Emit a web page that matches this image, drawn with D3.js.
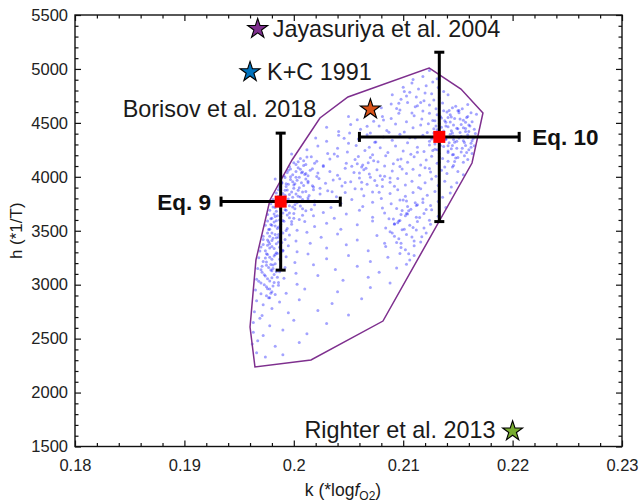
<!DOCTYPE html>
<html>
<head>
<meta charset="utf-8">
<script src="https://cdn.jsdelivr.net/npm/d3@7"></script>
<style>
  html, body { margin: 0; padding: 0; background: #fff; }
  svg { display: block; font-family: "Liberation Sans", Arial, Helvetica, sans-serif; }
</style>
</head>
<body>
<svg id="chart" width="639" height="503"></svg>
<script>
// Axis ticks
const xMajor = [0.18, 0.19, 0.2, 0.21, 0.22, 0.23];
const xMajorLabels = ["0.18", "0.19", "0.2", "0.21", "0.22", "0.23"];
const yMajor = [1500, 2000, 2500, 3000, 3500, 4000, 4500, 5000, 5500];

// Literature values (k, h)
const refNames = ["Jayasuriya et al. 2004", "K+C 1991", "Borisov et al. 2018", "Righter et al. 2013"];
const refK = [0.1967, 0.1960, 0.2070, 0.2200];
const refH = [5372, 4972, 4626, 1641];
const refColors = ["#7E2F8E", "#0072BD", "#D95319", "#77AC30"];

// Fitted equations with uncertainties
const eqNames = ["Eq. 9", "Eq. 10"];
const eqK = [0.1988, 0.2133];
const eqKErr = [0.00545, 0.0073];
const eqH = [3770, 4370];
const eqHErr = [635, 785];

// Outline of the sampled solutions
const hullK = [0.21236, 0.21528, 0.21729, 0.21629, 0.20815, 0.20157, 0.19645, 0.19600, 0.19654, 0.19782, 0.19984, 0.20239, 0.20495];
const hullH = [5009, 4814, 4592, 4128, 2663, 2302, 2237, 2608, 3229, 3785, 4156, 4545, 4740];

// Sampled (k, h) solutions
const cloud = [
[.2124,4985],[.2118,4930],[.2131,4910],
[.2108,4870],[.2121,4845],[.2114,4815],[.2127,4880],[.2100,4830],
[.2090,4760],[.2098,4720],[.2106,4785],[.2112,4740],[.2119,4705],[.2126,4770],[.2133,4730],[.2141,4760],[.2103,4750],[.2137,4790],
[.2080,4640],[.2089,4675],[.2097,4620],[.2104,4690],[.2111,4650],[.2118,4610],[.2124,4665],[.2130,4630],[.2136,4685],[.2142,4615],[.2148,4655],[.2154,4630],[.2159,4670],[.2145,4640],
[.2050,4560],[.2058,4530],[.2066,4580],[.2073,4515],[.2081,4560],[.2089,4540],[.2096,4590],[.2103,4510],[.2110,4565],[.2117,4535],[.2124,4590],[.2129,4520],[.2134,4560],[.2139,4505],[.2143,4575],[.2147,4540],[.2151,4595],[.2155,4525],[.2159,4560],[.2163,4510],[.2167,4580],[.2141,4550],
[.2030,4460],[.2041,4420],[.2052,4485],[.2061,4440],[.2070,4405],[.2078,4470],[.2085,4430],[.2093,4490],[.2101,4415],[.2109,4455],[.2116,4480],[.2122,4410],[.2128,4445],[.2133,4495],[.2137,4425],[.2141,4465],[.2145,4405],[.2149,4450],[.2153,4485],[.2157,4420],[.2161,4470],[.2165,4440],[.2135,4460],[.2155,4455],
[.2020,4360],[.2030,4330],[.2041,4385],[.2050,4310],[.2059,4350],[.2067,4390],[.2074,4320],[.2082,4370],[.2090,4340],[.2097,4395],[.2104,4315],[.2111,4360],[.2118,4385],[.2124,4330],[.2129,4305],[.2134,4370],[.2139,4345],[.2143,4395],[.2147,4320],[.2151,4360],[.2155,4335],[.2159,4390],[.2162,4310],[.2164,4355],[.2126,4350],[.2146,4345],
[.2012,4250],[.2022,4285],[.2031,4215],[.2040,4265],[.2049,4230],[.2057,4290],[.2065,4245],[.2072,4205],[.2079,4270],[.2086,4225],[.2093,4285],[.2100,4240],[.2107,4210],[.2113,4275],[.2119,4235],[.2124,4295],[.2129,4255],[.2133,4215],[.2137,4280],[.2141,4240],[.2145,4205],[.2149,4265],[.2153,4230],[.2157,4290],[.2160,4250],[.2163,4215],[.2131,4250],[.2144,4260],
[.2000,4130],[.2006,4170],[.2011,4115],[.2016,4185],[.2021,4145],[.2027,4105],[.2033,4165],[.2040,4190],[.2048,4125],[.2056,4160],[.2063,4110],[.2070,4180],[.2077,4140],[.2084,4195],[.2091,4120],[.2098,4165],[.2104,4135],[.2110,4185],[.2116,4110],[.2121,4155],[.2126,4190],[.2131,4125],[.2136,4170],[.2141,4145],[.2146,4105],[.2150,4180],[.2155,4135],[.2159,4160],[.2009,4150],[.2019,4125],
[.1995,4060],[.1999,4020],[.2004,4085],[.2008,4045],[.2013,4010],[.2017,4075],[.2022,4035],[.2027,4095],[.2033,4050],[.2040,4015],[.2047,4080],[.2055,4040],[.2062,4090],[.2069,4025],[.2076,4065],[.2083,4005],[.2090,4055],[.2097,4095],[.2103,4030],[.2109,4070],[.2115,4015],[.2120,4085],[.2125,4045],[.2130,4005],[.2135,4060],[.2140,4030],[.2145,4090],[.2150,4050],[.2155,4020],[.2002,4050],[.2011,4030],[.2006,4070],
[.1989,3950],[.1993,3910],[.1997,3975],[.2001,3935],[.2005,3995],[.2009,3920],[.2013,3960],[.2018,3905],[.2023,3985],[.2029,3940],[.2036,3970],[.2044,3915],[.2052,3955],[.2060,3990],[.2067,3930],[.2074,3965],[.2081,3910],[.2088,3950],[.2095,3985],[.2102,3925],[.2108,3960],[.2114,3900],[.2120,3945],[.2126,3980],[.2132,3920],[.2138,3960],[.2144,3905],[.2149,3945],[.1999,3955],[.2007,3945],[.1995,3930],[.2011,3980],
[.1984,3850],[.1988,3815],[.1992,3875],[.1996,3835],[.2000,3895],[.2004,3820],[.2008,3860],[.2013,3805],[.2018,3880],[.2024,3840],[.2031,3870],[.2039,3815],[.2047,3855],[.2056,3890],[.2064,3825],[.2072,3860],[.2080,3800],[.2088,3845],[.2095,3880],[.2102,3820],[.2109,3855],[.2116,3890],[.2122,3830],[.2129,3865],[.2136,3810],[.2143,3850],[.1990,3845],[.1998,3860],[.2002,3840],[.1986,3880],
[.1979,3750],[.1983,3715],[.1987,3780],[.1991,3735],[.1995,3795],[.1999,3720],[.2003,3760],[.2008,3705],[.2013,3785],[.2019,3740],[.2026,3770],[.2034,3715],[.2043,3755],[.2053,3790],[.2063,3725],[.2072,3765],[.2081,3710],[.2089,3750],[.2097,3785],[.2104,3725],[.2111,3760],[.2118,3795],[.2125,3735],[.2132,3770],[.2139,3715],[.1985,3745],[.1993,3755],[.2001,3740],[.1981,3790],[.1997,3770],
[.1976,3650],[.1980,3615],[.1984,3680],[.1988,3635],[.1992,3695],[.1996,3620],[.2000,3660],[.2005,3605],[.2011,3685],[.2018,3640],[.2027,3670],[.2037,3615],[.2048,3655],[.2060,3690],[.2072,3625],[.2083,3665],[.2091,3610],[.2098,3650],[.2105,3685],[.2112,3625],[.2119,3660],[.2126,3695],[.2132,3635],[.1982,3655],[.1990,3665],[.1978,3690],[.1994,3645],[.2102,3640],
[.1974,3550],[.1978,3515],[.1982,3580],[.1986,3535],[.1990,3595],[.1994,3520],[.1998,3560],[.2003,3505],[.2010,3585],[.2019,3540],[.2030,3570],[.2043,3515],[.2058,3555],[.2072,3590],[.2084,3525],[.2092,3565],[.2099,3510],[.2106,3550],[.2113,3585],[.2119,3525],[.2125,3560],[.1980,3550],[.1988,3560],[.1976,3590],[.2095,3575],[.2109,3530],
[.1972,3450],[.1976,3415],[.1980,3480],[.1984,3435],[.1988,3495],[.1992,3420],[.1996,3460],[.2002,3405],[.2012,3485],[.2025,3440],[.2040,3470],[.2058,3415],[.2076,3455],[.2088,3490],[.2096,3425],[.2103,3465],[.2110,3405],[.2117,3445],[.1978,3450],[.1986,3465],[.2121,3480],[.2092,3450],
[.1970,3350],[.1974,3315],[.1978,3380],[.1982,3335],[.1986,3395],[.1990,3320],[.1995,3360],[.2003,3305],[.2015,3385],[.2030,3340],[.2048,3370],[.2068,3315],[.2084,3355],[.2094,3390],[.2102,3325],[.2110,3360],[.2116,3395],[.1980,3355],[.1976,3365],[.2098,3345],
[.1968,3250],[.1972,3215],[.1976,3280],[.1980,3235],[.1984,3295],[.1988,3220],[.1993,3260],[.2001,3205],[.2013,3285],[.2030,3240],[.2050,3270],[.2070,3215],[.2086,3255],[.2097,3290],[.2106,3230],[.1978,3255],[.1982,3265],[.2110,3270],
[.1967,3150],[.1971,3115],[.1975,3180],[.1979,3135],[.1983,3195],[.1987,3120],[.1992,3160],[.2002,3105],[.2018,3185],[.2038,3140],[.2058,3170],[.2078,3115],[.2094,3155],[.1977,3160],[.1981,3150],[.2103,3190],
[.1966,3050],[.1970,3015],[.1974,3080],[.1978,3035],[.1982,3095],[.1986,3020],[.1991,3060],[.2003,3005],[.2022,3085],[.2045,3040],[.2068,3070],[.2088,3015],[.1976,3055],[.1980,3065],
[.1965,2950],[.1970,2915],[.1975,2980],[.1980,2935],[.1986,2995],[.1993,2920],[.2010,2960],[.2040,2935],[.2070,2975],[.1978,2960],
[.1966,2850],[.1972,2815],[.1978,2880],[.1987,2840],[.2005,2860],[.2035,2825],[.2062,2870],
[.1964,2750],[.1971,2715],[.1980,2780],[.1995,2740],[.2022,2760],[.2050,2720],
[.1963,2650],[.1969,2690],[.1978,2620],[.2000,2670],[.2030,2640],
[.1963,2560],[.1972,2530],[.1990,2580],[.2012,2545],
[.1962,2450],[.1967,2480],[.1983,2430],[.2005,2465],
[.1966,2370],[.1974,2330],[.1990,2350],
[.1983,3980],[.1991,4010],[.1996,4095],[.2004,3875],[.1987,3905],[.1999,3810],[.1993,3690],[.2006,3730],[.1985,3640],[.1998,3585],[.2002,3995],[.1989,3765],[.2009,4105],[.1994,4040],[.1981,3720],[.2000,3925],[.1992,3830],[.2011,3865],[.1987,3600],[.1996,3665],[.2004,4140],[.1983,3545],[.1990,3480],[.2008,3790],[.1997,4000],[.1986,3820],[.2013,3945],[.2001,3705],[.1993,3935],[.2015,4060],
[.2131,4575],[.2138,4520],[.2146,4480],[.2152,4410],[.2159,4365],[.2134,4290],[.2141,4225],[.2156,4195],[.2162,4275],[.2149,4330],[.2128,4405],[.2144,4555],[.2151,4615],[.2157,4505],[.2136,4385],[.2142,4315],[.2148,4175],[.2133,4135],[.2160,4420],[.2139,4470],[.2154,4265],[.2127,4245],[.2146,4375],[.2163,4335],[.2135,4545],[.2150,4445],[.2140,4600],[.2158,4550],[.2130,4470],[.2145,4290],
[.2058,4120],[.2066,4080],[.2073,4150],[.2079,4010],[.2062,3950],[.2070,3995],[.2083,4100],[.2060,4035],[.2076,3920],[.2068,4130],[.2081,3975],[.2064,4065],
[.2100,3785],[.2103,3775],[.2113,3740],[.2112,3735],[.2104,3655],[.2103,3660],[.2096,3590],[.2097,3595],[.2107,3700],[.2092,3560],
[.1972,3420],[.1978,3340],[.1983,3280],[.1975,3210],[.1980,3130],[.1985,3070],[.1973,3000],[.1979,2920],[.1984,3380],[.1976,3480],[.1988,3300],[.1971,3170],[.1982,3020],[.1977,2880],[.1986,3440],
[.1979,3612],[.1988,3703],[.1994,3877],[.2003,3968],[.2010,4021],[.1985,3522],[.1977,3397],[.1991,3588],[.2006,3812],[.2012,4183],[.1998,4212],[.1983,3466],[.1996,3731],[.2008,3643],[.1989,3941],[.2002,4113],[.1975,3286],[.1981,3183],[.1987,3348],[.1993,3502],[.2000,3617],[.2005,3899],[.2014,3826],[.1997,4072],[.1986,3791],[.1980,3409],[.1992,3993],[.2007,4038],[.1984,3592],[.1990,3313],[.2017,3918],[.2021,4002],[.2019,3778],[.2024,3895],[.2016,3697],
[.2123,4493],[.2137,4612],[.2144,4428],[.2152,4537],[.2160,4481],[.2166,4402],[.2129,4362],[.2141,4287],[.2156,4318],[.2133,4183],[.2147,4142],[.2158,4226],[.2124,4077],[.2138,4091],[.2150,4612],[.2162,4593],[.2143,4507],[.2131,4437],[.2153,4373],[.2165,4287],[.2127,4523],[.2146,4206],[.2139,4352],[.2157,4447],
[.2037,4212],[.2046,4358],[.2053,4097],[.2069,4273],[.2087,4412],[.2095,4158],[.2106,4362],[.2042,3983],[.2059,4188],[.2075,4322],[.2088,3988],[.2099,4072],[.2113,4228],[.2051,4406],[.2067,4468],[.2082,4527],[.2094,4633],[.2108,4591],[.2116,4689],[.2062,3887],[.2078,3857],[.2092,3912],[.2035,3862],[.2047,3948],
[.2087,3612],[.2094,3707],[.2101,3513],[.2108,3442],[.2115,3622],[.2121,3698],[.2098,3383],[.2105,3287],[.2112,3507],[.2090,3478],[.2118,3763],[.2124,3597],[.2083,3385],[.2099,3687],
[.2109,4902],[.2120,4777],[.2128,4712],[.2096,4683],[.2113,4658],[.2132,4827],[.2101,4792],
[.1969,3312],[.1974,3247],[.1979,3188],[.1984,3121],[.1973,3093],[.1981,2987],[.1968,3032],[.1976,2963],[.1983,2908],[.1987,3236],[.1972,3372],[.1981,3431],[.1977,3512],[.1985,3289],[.1970,3138],[.1988,3167],[.1975,2897],[.1989,3392],[.1979,3557],[.1983,3633]
];

const svg = d3.select("#chart");
const plot = { left: 75, right: 622, top: 15, bottom: 446.5 };

const x = d3.scaleLinear().domain([0.18, 0.23]).range([plot.left, plot.right]);
const y = d3.scaleLinear().domain([1500, 5500]).range([plot.bottom, plot.top]);

const xMinor = d3.range(0, 26).map(i => +(0.18 + i * 0.002).toFixed(3)).filter(v => !xMajor.some(m => Math.abs(m - v) < 1e-9));
const yMinor = d3.range(1500, 5501, 100).filter(v => v % 500 !== 0);

const tickFont = "16.5px";
const tickColor = "#222";

// Sampled solutions
svg.append("g")
  .selectAll("circle")
  .data(cloud)
  .join("circle")
  .attr("cx", d => x(d[0]))
  .attr("cy", d => y(d[1]))
  .attr("r", 1.5)
  .attr("fill", "#0000ff")
  .attr("fill-opacity", 0.36);

// Outline polygon
const hull = hullK.map((k, i) => [k, hullH[i]]);
svg.append("path")
  .attr("d", d3.line().x(d => x(d[0])).y(d => y(d[1])).curve(d3.curveLinearClosed)(hull))
  .attr("fill", "none")
  .attr("stroke", "#7E2F8E")
  .attr("stroke-width", 1.5);

// Axes with inward ticks on all four sides
function styleAxis(g) {
  g.select(".domain").remove();
  g.selectAll(".tick line").attr("stroke", "#111").attr("stroke-width", 1.2);
  g.selectAll(".tick text").attr("fill", tickColor).style("font-size", tickFont)
    .style("font-family", '"Liberation Sans", Arial, sans-serif');
}

svg.append("g").attr("transform", `translate(0,${plot.bottom})`)
  .call(d3.axisBottom(x).tickValues(xMajor).tickFormat((d, i) => xMajorLabels[i]).tickSizeInner(-6).tickSizeOuter(0).tickPadding(13))
  .call(styleAxis);
svg.append("g").attr("transform", `translate(0,${plot.bottom})`)
  .call(d3.axisBottom(x).tickValues(xMinor).tickFormat("").tickSizeInner(-3.5).tickSizeOuter(0))
  .call(styleAxis);
svg.append("g").attr("transform", `translate(0,${plot.top})`)
  .call(d3.axisTop(x).tickValues(xMajor).tickFormat("").tickSizeInner(-6).tickSizeOuter(0))
  .call(styleAxis);
svg.append("g").attr("transform", `translate(0,${plot.top})`)
  .call(d3.axisTop(x).tickValues(xMinor).tickFormat("").tickSizeInner(-3.5).tickSizeOuter(0))
  .call(styleAxis);

svg.append("g").attr("transform", `translate(${plot.left},0)`)
  .call(d3.axisLeft(y).tickValues(yMajor).tickFormat(d3.format("d")).tickSizeInner(-6).tickSizeOuter(0).tickPadding(7))
  .call(styleAxis);
svg.append("g").attr("transform", `translate(${plot.left},0)`)
  .call(d3.axisLeft(y).tickValues(yMinor).tickFormat("").tickSizeInner(-3.5).tickSizeOuter(0))
  .call(styleAxis);
svg.append("g").attr("transform", `translate(${plot.right},0)`)
  .call(d3.axisRight(y).tickValues(yMajor).tickFormat("").tickSizeInner(-6).tickSizeOuter(0))
  .call(styleAxis);
svg.append("g").attr("transform", `translate(${plot.right},0)`)
  .call(d3.axisRight(y).tickValues(yMinor).tickFormat("").tickSizeInner(-3.5).tickSizeOuter(0))
  .call(styleAxis);

// Frame
svg.append("rect")
  .attr("x", plot.left).attr("y", plot.top)
  .attr("width", plot.right - plot.left).attr("height", plot.bottom - plot.top)
  .attr("fill", "none").attr("stroke", "#111").attr("stroke-width", 1.4);

// Error bars
const capHalf = 5;
const eqG = svg.append("g").attr("stroke", "#000").attr("stroke-width", 3);
eqNames.forEach((name, i) => {
  const cx = x(eqK[i]), cy = y(eqH[i]);
  const x0 = x(eqK[i] - eqKErr[i]), x1 = x(eqK[i] + eqKErr[i]);
  const y0 = y(eqH[i] + eqHErr[i]), y1 = y(eqH[i] - eqHErr[i]);
  eqG.append("line").attr("x1", x0).attr("x2", x1).attr("y1", cy).attr("y2", cy);
  eqG.append("line").attr("x1", x0).attr("x2", x0).attr("y1", cy - capHalf).attr("y2", cy + capHalf);
  eqG.append("line").attr("x1", x1).attr("x2", x1).attr("y1", cy - capHalf).attr("y2", cy + capHalf);
  eqG.append("line").attr("x1", cx).attr("x2", cx).attr("y1", y0).attr("y2", y1);
  eqG.append("line").attr("x1", cx - capHalf).attr("x2", cx + capHalf).attr("y1", y0).attr("y2", y0);
  eqG.append("line").attr("x1", cx - capHalf).attr("x2", cx + capHalf).attr("y1", y1).attr("y2", y1);
});
svg.append("g").selectAll("rect")
  .data(eqNames)
  .join("rect")
  .attr("x", (d, i) => x(eqK[i]) - 6)
  .attr("y", (d, i) => y(eqH[i]) - 6)
  .attr("width", 12).attr("height", 12)
  .attr("fill", "#ff0000");

// Equation labels
const eqLabelFont = "bold 22.5px 'Liberation Sans', Arial, sans-serif";
svg.append("text")
  .attr("x", x(eqK[0] - eqKErr[0]) - 10).attr("y", y(eqH[0]) + 8)
  .attr("text-anchor", "end").style("font", eqLabelFont).attr("fill", "#111")
  .text(eqNames[0]);
svg.append("text")
  .attr("x", x(eqK[1] + eqKErr[1]) + 13).attr("y", y(eqH[1]) + 8)
  .attr("text-anchor", "start").style("font", eqLabelFont).attr("fill", "#111")
  .text(eqNames[1]);

// Literature stars
const star = d3.symbol().type(d3.symbolStar).size(124);
svg.append("g").selectAll("path")
  .data(refNames)
  .join("path")
  .attr("d", star)
  .attr("transform", (d, i) => `translate(${x(refK[i])},${y(refH[i])})`)
  .attr("fill", (d, i) => refColors[i])
  .attr("stroke", "#000").attr("stroke-width", 1.1);

// Star labels
const refFont = "23.4px 'Liberation Sans', Arial, sans-serif";
const refLabel = [
  { anchor: "start", dx: 15, dy: 8 },
  { anchor: "start", dx: 17, dy: 8 },
  { anchor: "end", dx: -54, dy: 8 },
  { anchor: "end", dx: -17, dy: 7 }
];
svg.append("g").selectAll("text")
  .data(refNames)
  .join("text")
  .attr("x", (d, i) => x(refK[i]) + refLabel[i].dx)
  .attr("y", (d, i) => y(refH[i]) + refLabel[i].dy)
  .attr("text-anchor", (d, i) => refLabel[i].anchor)
  .style("font", refFont)
  .attr("fill", "#1a1a1a")
  .text(d => d);

// Axis titles
const xTitle = svg.append("text")
  .attr("x", 343).attr("y", 496)
  .attr("text-anchor", "middle")
  .style("font-size", "17.5px").attr("fill", "#1a1a1a");
xTitle.append("tspan").text("k (*log");
xTitle.append("tspan").attr("font-style", "italic").text("f");
xTitle.append("tspan").attr("font-size", "12px").attr("dy", 4).text("O2");
xTitle.append("tspan").attr("dy", -4).text(")");

svg.append("text")
  .attr("transform", `translate(21.5,${(plot.top + plot.bottom) / 2}) rotate(-90)`)
  .attr("text-anchor", "middle")
  .style("font-size", "17px").attr("fill", "#1a1a1a")
  .text("h (*1/T)");
</script>
</body>
</html>
